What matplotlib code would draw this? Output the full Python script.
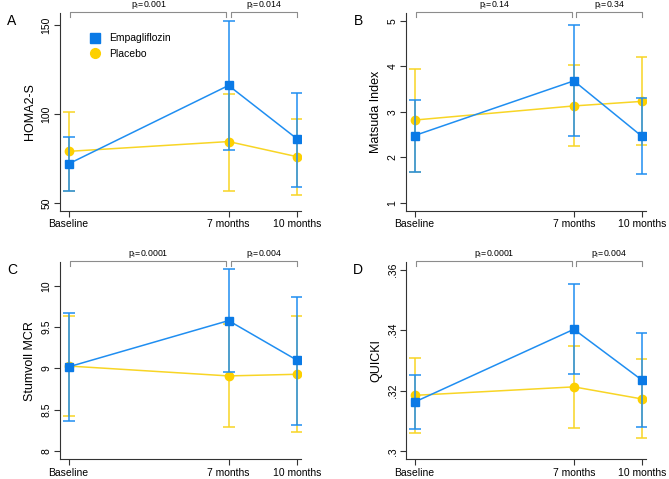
import matplotlib.pyplot as plt
from matplotlib.transforms import blended_transform_factory
from matplotlib.lines import Line2D
import numpy as np

plt.rcParams['font.family'] = ['Liberation Sans', 'DejaVu Sans']

months = [0, 7, 10]
month_labels = ["Baseline", "7 months", "10 months"]

# HOMA2-S
homa_empa = [72, 116, 86]
homa_empa_lo = [57, 80, 59]
homa_empa_hi = [87, 152, 112]
homa_plac = [79, 84.5, 76]
homa_plac_lo = [57, 57, 54.5]
homa_plac_hi = [101, 111, 97]

# Matsuda Index
mats_empa = [2.48, 3.68, 2.46]
mats_empa_lo = [1.69, 2.47, 1.64]
mats_empa_hi = [3.27, 4.9, 3.31]
mats_plac = [2.82, 3.13, 3.23]
mats_plac_lo = [1.67, 2.26, 2.27]
mats_plac_hi = [3.95, 4.03, 4.2]

# Stumvoll MCR
stum_empa = [9.02, 9.58, 9.1]
stum_empa_lo = [8.37, 8.96, 8.32]
stum_empa_hi = [9.67, 10.2, 9.87]
stum_plac = [9.03, 8.91, 8.93]
stum_plac_lo = [8.42, 8.29, 8.23]
stum_plac_hi = [9.63, 9.54, 9.63]

# QUICKI
quic_empa = [0.3163, 0.3403, 0.3235]
quic_empa_lo = [0.3073, 0.3256, 0.3080]
quic_empa_hi = [0.3253, 0.3551, 0.3391]
quic_plac = [0.3185, 0.3213, 0.3173]
quic_plac_lo = [0.3061, 0.3078, 0.3045]
quic_plac_hi = [0.3308, 0.3347, 0.3304]

blue = "#1f8ef1"
blue_mk = "#0a7ae6"
yellow = "#f8d525"
yellow_mk = "#fdd000"
grey = "#8c8c8c"

W, H = 669, 479
fig = plt.figure(figsize=(W / 100, H / 100), dpi=100)


def px_axes(left, top, right, bottom):
    return fig.add_axes([left / W, 1 - bottom / H, (right - left) / W, (bottom - top) / H])


def draw_panel(ax, letter, ylabel, empa, elo, ehi, plac, plo, phi, ylim, yticks, yticklabels, pvals):
    x = np.array(months)
    e = np.array(empa); p = np.array(plac)
    ax.errorbar(x, p, yerr=[p - np.array(plo), np.array(phi) - p], fmt='-o', color=yellow,
                mfc=yellow_mk, mec=yellow_mk, ms=6, lw=1.1, elinewidth=1.1, capsize=4,
                capthick=1.1, zorder=2)
    ax.errorbar(x, e, yerr=[e - np.array(elo), np.array(ehi) - e], fmt='-s', color=blue,
                mfc=blue_mk, mec=blue_mk, ms=5.5, lw=1.1, elinewidth=1.1, capsize=4,
                capthick=1.1, zorder=3)
    ax.set_xlim(-0.38, 10.15)
    ax.set_ylim(*ylim)
    ax.set_xticks(months)
    ax.set_xticklabels(month_labels, fontsize=7.5)
    ax.set_yticks(yticks)
    ax.set_yticklabels(yticklabels, fontsize=7.5, rotation=90, va='center')
    ax.tick_params(direction='out', length=4, width=0.8, color='#333333', pad=2)
    for s in ['top', 'right']:
        ax.spines[s].set_visible(False)
    for s in ['left', 'bottom']:
        ax.spines[s].set_linewidth(0.8)
        ax.spines[s].set_color('#333333')
    ax.set_ylabel(ylabel, fontsize=9, labelpad=4)

    # brackets with interaction p-values
    tr = blended_transform_factory(ax.transData, ax.transAxes)
    spans = [(0.07, 6.91), (7.09, 10.0)]
    for (a, b), ptxt in zip(spans, pvals):
        ax.plot([a, a, b, b], [0.98, 1.006, 1.006, 0.98], color=grey, lw=0.8,
                transform=tr, clip_on=False)
        ax.text((a + b) / 2, 1.04, ptxt, transform=tr, ha='center', va='center',
                fontsize=6.3)
    ax.text(-0.2, 0.96, letter, transform=ax.transAxes, fontsize=10, ha='center', va='center')


axA = px_axes(60, 13, 300.5, 211)
draw_panel(axA, "A", "HOMA2-S", homa_empa, homa_empa_lo, homa_empa_hi,
           homa_plac, homa_plac_lo, homa_plac_hi, (45.5, 156.7), [50, 100, 150],
           ["50", "100", "150"], ["p$_\\mathregular{I}$=0.001", "p$_\\mathregular{I}$=0.014"])
leg_handles = [
    Line2D([], [], ls='none', marker='s', ms=6.5, color=blue_mk),
    Line2D([], [], ls='none', marker='o', ms=7, color=yellow_mk),
]
axA.legend(leg_handles, ["Empagliflozin", "Placebo"], loc='upper left',
           bbox_to_anchor=(0.09, 0.945), frameon=False, fontsize=7.5, handlelength=0.8,
           handletextpad=0.9, labelspacing=0.55)

axB = px_axes(406, 13, 645.5, 210.7)
draw_panel(axB, "B", "Matsuda Index", mats_empa, mats_empa_lo, mats_empa_hi,
           mats_plac, mats_plac_lo, mats_plac_hi, (0.83, 5.17), [1, 2, 3, 4, 5],
           ["1", "2", "3", "4", "5"], ["p$_\\mathregular{I}$=0.14", "p$_\\mathregular{I}$=0.34"])

axC = px_axes(60, 262, 300.5, 459.3)
draw_panel(axC, "C", "Stumvoll MCR", stum_empa, stum_empa_lo, stum_empa_hi,
           stum_plac, stum_plac_lo, stum_plac_hi, (7.9, 10.29), [8, 8.5, 9, 9.5, 10],
           ["8", "8.5", "9", "9.5", "10"], ["p$_\\mathregular{I}$=0.0001", "p$_\\mathregular{I}$=0.004"])

axD = px_axes(406, 262, 645.5, 459.3)
draw_panel(axD, "D", "QUICKI", quic_empa, quic_empa_lo, quic_empa_hi,
           quic_plac, quic_plac_lo, quic_plac_hi, (0.2974, 0.3625), [0.30, 0.32, 0.34, 0.36],
           [".3", ".32", ".34", ".36"], ["p$_\\mathregular{I}$=0.0001", "p$_\\mathregular{I}$=0.004"])

fig.savefig("out.png", dpi=100)
